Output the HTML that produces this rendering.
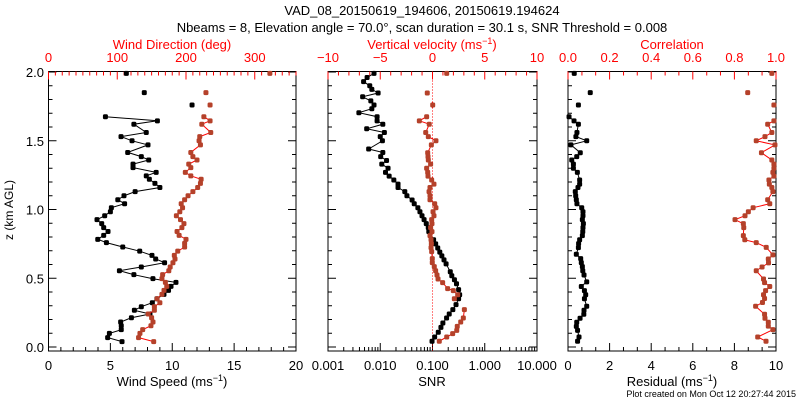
<!DOCTYPE html>
<html><head><meta charset="utf-8"><style>
html,body{margin:0;padding:0;background:#fff;}
svg{display:block;font-family:"Liberation Sans","DejaVu Sans",sans-serif;}
</style></head><body>
<svg id="chart" width="800" height="400" viewBox="0 0 800 400" xmlns="http://www.w3.org/2000/svg">
<text x="422" y="15" font-size="13" text-anchor="middle">VAD_08_20150619_194606, 20150619.194624</text>
<text x="422" y="32" font-size="13" text-anchor="middle">Nbeams = 8, Elevation angle = 70.0°, scan duration = 30.1 s, SNR Threshold = 0.008</text>
<text x="0" y="0" font-size="12" text-anchor="middle" transform="translate(13,210) rotate(-90)">z (km AGL)</text>
<text x="796" y="397" font-size="9" text-anchor="end">Plot created on Mon Oct 12 20:27:44 2015</text>
<g id="layer"></g>
</svg>
<script>
// ---- Panel 1: wind speed (black) & wind direction (red)
const speedZ = [1.99,1.85,1.76,1.675,1.645,1.62,1.56,1.53,1.50,1.47,1.415,1.385,1.36,1.33,1.305,1.27,1.245,1.22,1.19,1.16,1.13,1.10,1.071,1.042,1.013,0.984,0.955,0.926,0.897,0.868,0.84,0.812,0.783,0.759,0.727,0.697,0.666,0.64,0.613,0.582,0.555,0.526,0.497,0.47,0.441,0.412,0.383,0.351,0.322,0.293,0.267,0.240,0.213,0.182,0.155,0.126,0.099,0.068,0.039];
const speedVals = [6.29,7.74,11.6,4.6,8.8,6.9,7.9,5.86,6.75,8.04,6.4,7.5,8.1,6.83,6.83,8.7,7.9,8.15,8.6,9.0,7.0,6.1,5.6,6.15,5.08,5.0,4.54,3.92,4.3,4.46,4.81,4.46,3.98,4.68,6.0,7.37,8.36,8.66,9.38,7.5,5.73,6.9,8.44,10.3,9.9,9.7,9.33,8.76,8.39,7.5,6.94,8.2,6.7,5.83,5.88,5.88,4.92,4.78,5.94];
const dirZ = [1.99,1.85,1.76,1.675,1.645,1.62,1.56,1.53,1.50,1.47,1.415,1.385,1.36,1.33,1.305,1.27,1.245,1.22,1.19,1.16,1.13,1.10,1.071,1.042,1.013,0.984,0.955,0.926,0.897,0.868,0.84,0.812,0.783,0.754,0.727,0.697,0.666,0.64,0.613,0.582,0.555,0.526,0.497,0.47,0.441,0.412,0.383,0.351,0.322,0.293,0.267,0.240,0.213,0.182,0.155,0.126,0.099,0.068,0.039];
const dirVals = [322,229,235,226,235,223,236,220,219,221,207,210,216,204,207,199,207,222,221,217,210,203,198,193,195,191,186,192,197,194,187,190,200,198,198,188,183,184,181,177,175,166,165,170,172,168,165,158,162,154,154,145,150,152,149,137,133,131,153];
// ---- Panel 2: SNR (black) & vertical velocity (red)
const snrZ = [1.99,1.96,1.93,1.90,1.874,1.847,1.82,1.79,1.76,1.733,1.704,1.675,1.645,1.62,1.587,1.56,1.53,1.50,1.44,1.415,1.385,1.356,1.33,1.30,1.27,1.243,1.215,1.185,1.16,1.13,1.10,1.069,1.042,1.013,0.984,0.955,0.926,0.897,0.868,0.839,0.78,0.75,0.72,0.69,0.663,0.634,0.605,0.547,0.518,0.489,0.46,0.417,0.38,0.351,0.308,0.272,0.24,0.211,0.175,0.143,0.107,0.073,0.042];
const snrVals = [0.0076,0.0056,0.0048,0.0063,0.0069,0.0091,0.0046,0.0066,0.0076,0.0069,0.0039,0.0087,0.0087,0.0112,0.0055,0.012,0.010,0.011,0.006,0.0112,0.0102,0.0132,0.0107,0.0141,0.0126,0.0148,0.0182,0.0219,0.0219,0.0295,0.0324,0.0407,0.0447,0.0525,0.0575,0.063,0.069,0.076,0.083,0.085,0.105,0.115,0.126,0.138,0.151,0.166,0.182,0.219,0.234,0.263,0.288,0.316,0.331,0.316,0.282,0.245,0.209,0.186,0.158,0.145,0.129,0.110,0.098];
const wZ = [1.99,1.847,1.76,1.675,1.645,1.62,1.56,1.53,1.50,1.47,1.413,1.385,1.36,1.33,1.30,1.27,1.243,1.215,1.185,1.16,1.13,1.10,1.071,1.042,1.013,0.984,0.955,0.926,0.897,0.868,0.839,0.81,0.78,0.752,0.723,0.694,0.643,0.614,0.585,0.555,0.524,0.495,0.468,0.425,0.41,0.38,0.351,0.272,0.211,0.182,0.15,0.121,0.097,0.073,0.042];
const wVals = [1.36,-0.50,0.02,-0.56,-1.26,-0.31,-0.65,-0.40,0.33,-0.11,-0.46,-0.43,-0.40,-0.18,-0.56,-0.46,-0.43,-0.08,0.14,-0.24,-0.33,-0.24,-0.24,0.21,0.33,0.05,0.14,-0.08,-0.05,-0.18,-0.05,-0.24,-0.14,-0.11,-0.14,-0.08,-0.02,-0.02,0.17,0.30,0.43,0.53,0.97,1.45,1.99,2.41,2.09,3.05,2.95,2.70,2.37,2.32,1.93,1.36,0.65];
// ---- Panel 3: residual (black) & correlation (red)
const resZ = [1.99,1.85,1.76,1.675,1.645,1.62,1.56,1.53,1.50,1.47,1.413,1.385,1.36,1.33,1.30,1.27,1.215,1.185,1.16,1.13,1.10,1.071,1.042,1.013,0.984,0.955,0.926,0.897,0.868,0.839,0.81,0.78,0.752,0.723,0.675,0.643,0.614,0.585,0.555,0.524,0.474,0.44,0.41,0.38,0.351,0.296,0.267,0.238,0.209,0.18,0.15,0.121,0.073,0.042];
const resVals = [0.30,1.07,0.50,0.05,0.29,0.50,0.43,0.38,0.90,0.14,0.59,0.42,0.18,0.26,0.26,0.45,0.56,0.56,0.48,0.35,0.37,0.40,0.43,0.66,0.72,0.72,0.69,0.74,0.72,0.71,0.69,0.56,0.51,0.50,0.40,0.61,0.64,0.69,0.71,0.77,0.90,0.64,0.79,0.85,0.79,0.90,0.77,0.76,0.58,0.42,0.40,0.46,0.53,0.46];
const corZ = [1.99,1.85,1.76,1.645,1.62,1.56,1.53,1.50,1.47,1.413,1.36,1.33,1.30,1.27,1.243,1.215,1.185,1.16,1.13,1.071,1.042,1.013,0.984,0.955,0.926,0.897,0.868,0.81,0.78,0.759,0.725,0.67,0.64,0.612,0.582,0.555,0.495,0.468,0.44,0.41,0.38,0.353,0.324,0.296,0.238,0.209,0.18,0.152,0.126,0.073,0.042];
const corVals = [0.98,0.864,0.99,0.99,0.96,0.98,0.947,0.905,0.995,0.93,0.98,0.99,0.99,0.985,0.99,0.966,0.968,0.98,0.985,0.96,0.97,0.89,0.867,0.851,0.803,0.843,0.845,0.843,0.85,0.905,0.953,0.985,0.963,0.964,0.933,0.905,0.94,0.945,0.97,0.95,0.94,0.945,0.935,0.902,0.945,0.947,0.963,0.963,0.985,0.912,0.952];

const NS='http://www.w3.org/2000/svg';
const layer=document.getElementById('layer');
const RED='#ff0000', MK='#b5412a';
const TOP=71.5, BOT=351, Y0=347, Y2=72;
function yS(z){return Y0+(Y2-Y0)*z/2;}
function mk(tag,attrs,parent){const e=document.createElementNS(NS,tag);for(const k in attrs)e.setAttribute(k,attrs[k]);(parent||layer).appendChild(e);return e;}
function linS(d0,d1,p0,p1){return v=>p0+(v-d0)*(p1-p0)/(d1-d0);}
function logS(d0,d1,p0,p1){const a=Math.log10(d0),b=Math.log10(d1);return v=>p0+(Math.log10(v)-a)*(p1-p0)/(b-a);}

function panel(name,x0,x1){
  const g=mk('g',{});
  
  
  const r=mk('rect',{x:x0,y:TOP,width:x1-x0,height:BOT-TOP,fill:'none',stroke:'#000','stroke-width':1},g);
  
  
  for(let i=0;i<=20;i++){const z=i*0.1,y=yS(z),L=(i%5===0)?8:4;
    mk('line',{x1:x0,x2:x0+L,y1:y,y2:y,stroke:'#000'},g);
    mk('line',{x1:x1,x2:x1-L,y1:y,y2:y,stroke:'#000'},g);}
  return g;
}
function ticks(g,scale,vals,isMajor,side,color){
  vals.forEach(v=>{const x=scale(v),L=isMajor(v)?8:4;
    if(side==='bottom')mk('line',{x1:x,x2:x,y1:BOT,y2:BOT-L,stroke:color},g);
    else mk('line',{x1:x,x2:x,y1:TOP,y2:TOP+L,stroke:color},g);});
}
function label(g,txt,x,y,color,name,anchor){const t=mk('text',{x:x,y:y,'font-size':13,fill:color,'text-anchor':anchor||'middle'},g);t.textContent=txt;
  
  
  return t;}
function series(g,name,zs,vs,xs,mcolor,lcolor){
  const pts=[];
  for(let i=0;i<zs.length;i++){
    const x=xs(vs[i]),y=yS(zs[i]);
    const connect=i>0&&Math.abs(zs[i]-zs[i-1])<0.07;
    pts.push((connect?'L ':'M ')+x.toFixed(1)+' '+y.toFixed(1));
  }
  const p=mk('path',{d:pts.join(' '),fill:'none',stroke:lcolor,'stroke-width':1},g);
  
  
  for(let i=0;i<zs.length;i++){
    const c=mk('rect',{x:xs(vs[i])-2.5,y:yS(zs[i])-2.5,width:5,height:5,rx:1.5,fill:mcolor},g);
    
    
  }
}
const range=(a,b,s)=>{const o=[];for(let v=a;v<=b+1e-9;v+=s)o.push(Math.round(v*1000)/1000);return o;};

// Panel 1
{const x0=48.5,x1=296;const g=panel('wind-panel',x0,x1);
 const sx=linS(0,20,x0,x1), dx=linS(0,360,x0,x1);
 ticks(g,sx,range(0,20,1),v=>v%5===0,'bottom','#000');
 ticks(g,dx,range(0,360,10),v=>v%100===0,'top',RED);
 [0,5,10,15,20].forEach(v=>label(g,String(v),sx(v),370,'#000','speed-tick-label'));
 [0,100,200,300].forEach(v=>label(g,String(v),dx(v),62,RED,'direction-tick-label'));
 ['2.0','1.5','1.0','0.5','0.0'].forEach(s=>label(g,s,44,yS(parseFloat(s))+5,'#000','z-tick-label','end'));
 const t=label(g,'',172,386,'#000','x-axis-title-wind-speed');t.innerHTML='Wind Speed (ms<tspan dy="-5" font-size="9">−1</tspan><tspan dy="5">)</tspan>';
 label(g,'Wind Direction (deg)',172,49,RED,'x-axis-title-wind-direction');
 series(g,'wind-speed',speedZ,speedVals,sx,'#000','#000');
 series(g,'wind-direction',dirZ,dirVals,dx,MK,RED);}
// Panel 2
{const x0=328,x1=537;const g=panel('snr-panel',x0,x1);
 const sx=logS(0.001,10,x0,x1), wx=linS(-10,10,x0,x1);
 const lt=[];for(let e=-3;e<1;e++)for(let m=1;m<10;m++)lt.push(m*Math.pow(10,e));lt.push(10);
 ticks(g,sx,lt,v=>Math.abs(Math.log10(v)-Math.round(Math.log10(v)))<1e-6,'bottom','#000');
 ticks(g,wx,range(-10,10,1),v=>v%5===0,'top',RED);
 [['0.001',0.001],['0.010',0.01],['0.100',0.1],['1.000',1],['10.000',10]].forEach(a=>label(g,a[0],sx(a[1]),370,'#000','snr-tick-label'));
 [['−10',-10],['−5',-5],['0',0],['5',5],['10',10]].forEach(a=>label(g,a[0],wx(a[1]),62,RED,'velocity-tick-label'));
 label(g,'SNR',432,386,'#000','x-axis-title-snr');
 const t=label(g,'',432,49,RED,'x-axis-title-vertical-velocity');t.innerHTML='Vertical velocity (ms<tspan dy="-5" font-size="9">−1</tspan><tspan dy="5">)</tspan>';
 const zl=mk('line',{x1:wx(0),x2:wx(0),y1:TOP,y2:BOT,stroke:RED,'stroke-dasharray':'1,2'},g);
 
 
 series(g,'snr',snrZ,snrVals,sx,'#000','#000');
 series(g,'vertical-velocity',wZ,wVals,wx,MK,RED);}
// Panel 3
{const x0=568,x1=776;const g=panel('residual-panel',x0,x1);
 const rx=linS(0,10,x0,x1), cx=linS(0,1,x0,x1);
 ticks(g,rx,range(0,10,2/3),v=>Math.abs(v/2-Math.round(v/2))<1e-3,'bottom','#000');
 ticks(g,cx,range(0,1,0.2/3),v=>Math.abs(v/0.2-Math.round(v/0.2))<1e-3,'top',RED);
 [0,2,4,6,8,10].forEach(v=>label(g,String(v),rx(v),370,'#000','residual-tick-label'));
 ['0.0','0.2','0.4','0.6','0.8','1.0'].forEach(s=>label(g,s,cx(parseFloat(s)),62,RED,'correlation-tick-label'));
 const t=label(g,'',672,386,'#000','x-axis-title-residual');t.innerHTML='Residual (ms<tspan dy="-5" font-size="9">−1</tspan><tspan dy="5">)</tspan>';
 label(g,'Correlation',672,49,RED,'x-axis-title-correlation');
 series(g,'residual',resZ,resVals,rx,'#000','#000');
 series(g,'correlation',corZ,corVals,cx,MK,RED);}
</script>
</body></html>
